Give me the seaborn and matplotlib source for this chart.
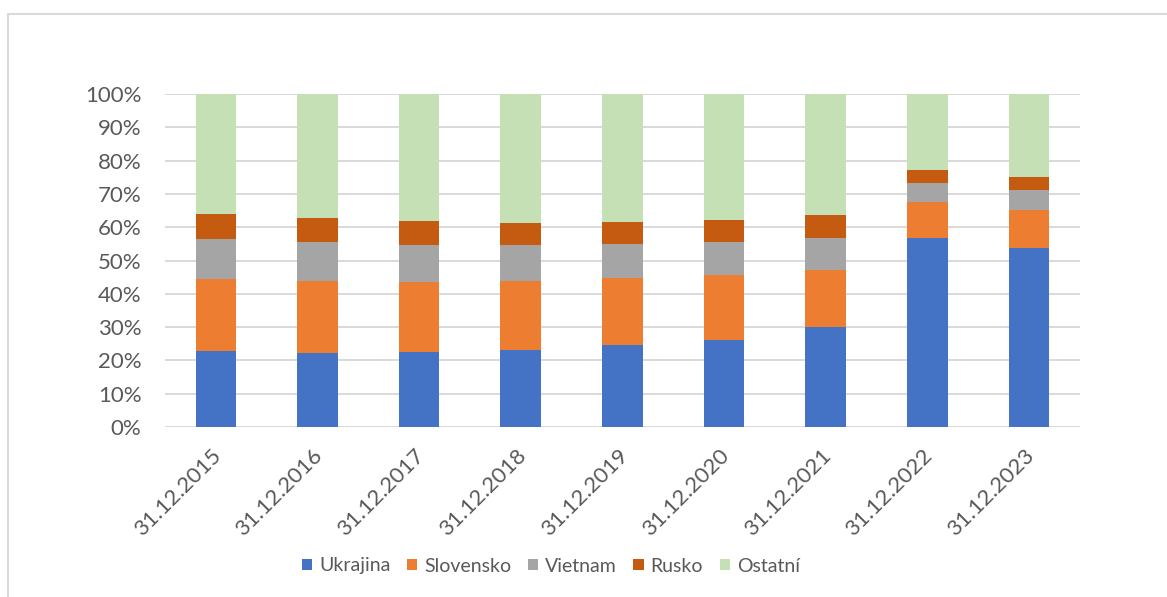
import matplotlib.pyplot as plt
import matplotlib.ticker as mticker
import matplotlib.transforms as mtransforms
import pandas as pd
import seaborn as sns
from matplotlib.lines import Line2D
from matplotlib.patches import Patch

dates = ["31.12.2015", "31.12.2016", "31.12.2017", "31.12.2018", "31.12.2019",
         "31.12.2020", "31.12.2021", "31.12.2022", "31.12.2023"]
ukrajina = [22.7, 22.2, 22.4, 23.2, 24.5, 26.1, 30.0, 56.9, 53.9]
slovensko = [21.6, 21.5, 21.1, 20.7, 20.2, 19.5, 17.1, 10.6, 11.2]
vietnam = [12.2, 11.8, 11.3, 10.7, 10.4, 10.0, 9.8, 5.9, 6.2]
rusko = [7.5, 7.2, 7.0, 6.7, 6.5, 6.6, 6.8, 3.9, 3.9]
ostatni = [36.0, 37.3, 38.2, 38.7, 38.4, 37.8, 36.3, 22.7, 24.8]

series = ["Ukrajina", "Slovensko", "Vietnam", "Rusko", "Ostatní"]
colors = ["#4472C4", "#ED7D31", "#A5A5A5", "#C55A11", "#C5E0B4"]


def main():
    sns.set_style("white")
    plt.rcParams["font.family"] = ["Lato", "DejaVu Sans"]
    text_color = "#595959"

    df = pd.DataFrame({"date": dates, "Ukrajina": ukrajina, "Slovensko": slovensko,
                       "Vietnam": vietnam, "Rusko": rusko, "Ostatní": ostatni})
    shares = df[series].div(df[series].sum(axis=1), axis=0)
    cum = shares.cumsum(axis=1)
    cum["date"] = df["date"]

    fig = plt.figure(figsize=(11.67, 5.97), dpi=100)
    ax = fig.add_axes([0.1414, 0.2848, 0.7840, 0.5577])

    # stacked bars: draw cumulative totals from top segment down
    for name, col in reversed(list(zip(series, colors))):
        sns.barplot(data=cum, x="date", y=name, color=col, width=0.4,
                    order=dates, linewidth=0, saturation=1, ax=ax, zorder=2)

    ax.set_xlim(-0.5, 8.5)
    ax.set_ylim(0, 1)
    ax.yaxis.set_major_locator(mticker.MultipleLocator(0.1))
    ax.yaxis.set_major_formatter(mticker.PercentFormatter(1.0, decimals=0))
    ax.yaxis.grid(True, color="#D9D9D9", linewidth=1.4)
    ax.set_axisbelow(True)
    for s in ["top", "right", "left", "bottom"]:
        ax.spines[s].set_visible(False)
    ax.set_xlabel("")
    ax.set_ylabel("")
    ax.tick_params(axis="both", length=0, labelsize=16, labelcolor=text_color)
    ax.tick_params(axis="y", pad=17)
    ax.tick_params(axis="x", pad=13)
    shift = mtransforms.ScaledTranslation(-5 / 100, 0, fig.dpi_scale_trans)
    for lab in ax.get_xticklabels():
        lab.set_rotation(45)
        lab.set_ha("right")
        lab.set_rotation_mode("anchor")
        lab.set_transform(lab.get_transform() + shift)

    handles = [Patch(facecolor=c, edgecolor="none", label=n) for n, c in zip(series, colors)]
    fig.legend(handles=handles, loc="center", bbox_to_anchor=(551 / 1167, 1 - 566 / 597),
               ncol=5, frameon=False, fontsize=14, labelcolor=text_color,
               handlelength=0.52, handleheight=0.52, handletextpad=0.36, columnspacing=0.85)

    # chart area frame (only top and left edges visible)
    fig.add_artist(Line2D([8 / 1167, 1], [1 - 14 / 597, 1 - 14 / 597],
                          transform=fig.transFigure, color="#D9D9D9", linewidth=1.5))
    fig.add_artist(Line2D([8 / 1167, 8 / 1167], [0, 1 - 14 / 597],
                          transform=fig.transFigure, color="#D9D9D9", linewidth=1.5))

    fig.savefig("out.png", dpi=100, facecolor="white")


if __name__ == "__main__":
    main()
